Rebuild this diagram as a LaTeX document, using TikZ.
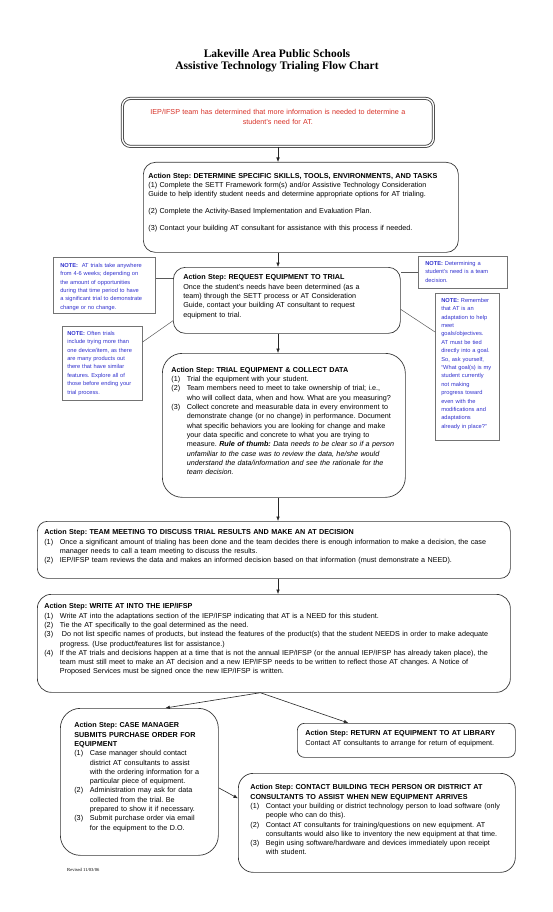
\documentclass[tikz,border=0pt]{standalone}
\usepackage{fontspec}
\setmainfont{Liberation Sans}
\newfontfamily\headfont{Liberation Serif}
\usetikzlibrary{arrows.meta}
\setlength{\parskip}{0pt}
\setlength{\parindent}{0pt}

\definecolor{alertred}{RGB}{214,48,38}
\definecolor{noteblue}{RGB}{48,48,205}
\definecolor{edge}{RGB}{55,55,55}

\newcommand{\stepsize}{\fontsize{7.2pt}{9.3pt}\selectfont\frenchspacing}
\newcommand{\notesize}{\fontsize{5.7pt}{8.4pt}\selectfont\frenchspacing}
\newcommand{\stepitem}[2]{\par\hangindent=15.5pt\hangafter=1\makebox[15.5pt][l]{#1}#2\par}

\tikzstyle{stepbox} = [draw=edge, line width=0.7pt, rounded corners=12pt, anchor=north west, inner ysep=0pt, align=left, font=\stepsize]
\tikzstyle{alertbox} = [draw=edge, line width=0.8pt, double=white, double distance=1.4pt, rounded corners=8pt, anchor=north west, inner ysep=0pt, align=center, text=alertred, font=\stepsize]
\tikzstyle{notebox} = [draw=black!55, line width=0.6pt, anchor=north west, inner ysep=0pt, align=left, text=noteblue, font=\notesize]
\tikzstyle{heading} = [anchor=north, inner sep=0pt, align=center, font=\headfont\bfseries\fontsize{11.5pt}{12.5pt}\selectfont]
\tikzstyle{revised} = [anchor=base west, inner sep=0pt, font=\headfont\fontsize{4.6pt}{5pt}\selectfont]
\tikzstyle{flow} = [draw=black!85, line width=0.6pt, -{Latex[length=4.5pt,width=3.6pt]}]
\tikzstyle{tie} = [draw=black!65, line width=0.5pt]

\begin{document}
\begin{tikzpicture}[x=1pt,y=-1pt]
	\useasboundingbox (0,0) rectangle (553,912);

	\node[heading] (heading) at (277,49) {Lakeville Area Public Schools\\Assistive Technology Trialing Flow Chart};

	\node[alertbox, inner xsep=5.5pt, text width=300pt, text height=16.5pt, text depth=31.5pt] (alert) at (122,98)
		{IEP/IFSP team has determined that more information is needed to determine a\\student's need for AT.};

	\node[stepbox, inner xsep=5pt, text width=305pt, text height=16pt, text depth=74pt] (determine) at (143,162)
		{\textbf{Action Step: DETERMINE SPECIFIC SKILLS, TOOLS, ENVIRONMENTS, AND TASKS}\par
		(1) Complete the SETT Framework form(s) and/or Assistive Technology Consideration\newline
		Guide to help identify student needs and determine appropriate options for AT trialing.\par\vspace{7.5pt}
		(2) Complete the Activity-Based Implementation and Evaluation Plan.\par\vspace{7.5pt}
		(3) Contact your building AT consultant for assistance with this process if needed.};

	\node[stepbox, inner xsep=10pt, text width=207pt, text height=12.5pt, text depth=53.5pt] (request) at (173,267)
		{\textbf{Action Step: REQUEST EQUIPMENT TO TRIAL}\par
		Once the student's needs have been determined (as a\newline
		team) through the SETT process or AT Consideration\newline
		Guide, contact your building AT consultant to request\newline
		equipment to trial.};

	\node[stepbox, rounded corners=20pt, inner xsep=9pt, text width=225pt, text height=19pt, text depth=125pt] (trial) at (162,353)
		{\textbf{Action Step: TRIAL EQUIPMENT \& COLLECT DATA}
		\stepitem{(1)}{Trial the equipment with your student.}
		\stepitem{(2)}{Team members need to meet to take ownership of trial; i.e.,\newline who will collect data, when and how. What are you measuring?}
		\stepitem{(3)}{Collect concrete and measurable data in every environment to\newline demonstrate change (or no change) in performance. Document\newline what specific behaviors you are looking for change and make\newline your data specific and concrete to what you are trying to\newline measure. \textbf{\textit{Rule of thumb:}} \textit{Data needs to be clear so if a person\newline unfamiliar to the case was to review the data, he/she would\newline understand the data/information and see the rationale for the\newline team decision.}}};

	\node[stepbox, rounded corners=10pt, inner xsep=7pt, text width=459pt, text height=13.5pt, text depth=43.5pt] (meeting) at (37,521)
		{\textbf{Action Step: TEAM MEETING TO DISCUSS TRIAL RESULTS AND MAKE AN AT DECISION}
		\stepitem{(1)}{Once a significant amount of trialing has been done and the team decides there is enough information to make a decision, the case\newline manager needs to call a team meeting to discuss the results.}
		\stepitem{(2)}{IEP/IFSP team reviews the data and makes an informed decision based on that information (must demonstrate a NEED).}};

	\node[stepbox, rounded corners=14pt, inner xsep=7pt, text width=459pt, text height=14.5pt, text depth=83.5pt] (write) at (37,594)
		{\textbf{Action Step: WRITE AT INTO THE IEP/IFSP}
		\stepitem{(1)}{Write AT into the adaptations section of the IEP/IFSP indicating that AT is a NEED for this student.}
		\stepitem{(2)}{Tie the AT specifically to the goal determined as the need.}
		\stepitem{(3)}{\hspace{2pt}Do not list specific names of products, but instead the features of the product(s) that the student NEEDS in order to make adequate\newline progress. (Use product/features list for assistance.)}
		\stepitem{(4)}{If the AT trials and decisions happen at a time that is not the annual IEP/IFSP (or the annual IEP/IFSP has already taken place), the\newline team must still meet to make an AT decision and a new IEP/IFSP needs to be written to reflect those AT changes. A Notice of\newline Proposed Services must be signed once the new IEP/IFSP is written.}};

	\node[stepbox, rounded corners=20pt, inner xsep=14pt, text width=130pt, text height=19.5pt, text depth=127.5pt] (casemgr) at (60,708)
		{\textbf{Action Step: CASE MANAGER\newline SUBMITS PURCHASE ORDER FOR\newline EQUIPMENT}
		\stepitem{(1)}{Case manager should contact\newline district AT consultants to assist\newline with the ordering information for a\newline particular piece of equipment.}
		\stepitem{(2)}{Administration may ask for data\newline collected from the trial. Be\newline prepared to show it if necessary.}
		\stepitem{(3)}{Submit purchase order via email\newline for the equipment to the D.O.}};

	\node[stepbox, rounded corners=7pt, inner xsep=8pt, text width=202pt, text height=12.5pt, text depth=21.5pt] (return) at (297,723)
		{\textbf{Action Step: RETURN AT EQUIPMENT TO AT LIBRARY}\par
		Contact AT consultants to arrange for return of equipment.};

	\node[stepbox, rounded corners=15pt, inner xsep=12pt, text width=253pt, text height=16.5pt, text depth=82.5pt] (contact) at (238,773)
		{\textbf{Action Step: CONTACT BUILDING TECH PERSON OR DISTRICT AT\newline CONSULTANTS TO ASSIST WHEN NEW EQUIPMENT ARRIVES}
		\stepitem{(1)}{Contact your building or district technology person to load software (only\newline people who can do this).}
		\stepitem{(2)}{Contact AT consultants for training/questions on new equipment. AT\newline consultants would also like to inventory the new equipment at that time.}
		\stepitem{(3)}{Begin using software/hardware and devices immediately upon receipt\newline with student.}};

	\node[revised] (stamp) at (67,871) {Revised 11/03/06};

	\node[notebox, inner xsep=7pt, text width=88pt, text height=10pt, text depth=46pt] (noteA) at (53,257)
		{\textbf{NOTE:}\ \ AT trials take anywhere\newline from 4-6 weeks; depending on\newline the amount of opportunities\newline during that time period to have\newline a significant trial to demonstrate\newline change or no change.};

	\node[notebox, inner xsep=5pt, text width=70pt, text height=9pt, text depth=65pt] (noteB) at (62,326)
		{\textbf{NOTE:} Often trials\newline include trying more than\newline one device/item, as there\newline are many products out\newline there that have similar\newline features. Explore all of\newline those before ending your\newline trial process.};

	\node[notebox, inner xsep=7pt, text width=75pt, text height=9pt, text depth=23pt] (noteC) at (418,256)
		{\textbf{NOTE:} Determining a\newline student's need is a team\newline decision.};

	\node[notebox, inner xsep=6pt, text width=52pt, text height=9pt, text depth=138pt] (noteD) at (435,293)
		{\textbf{NOTE:} Remember\newline that AT is an\newline adaptation to help\newline meet\newline goals/objectives.\newline AT must be tied\newline directly into a goal.\newline So, ask yourself,\newline “What goal(s) is my\newline student currently\newline not making\newline progress toward\newline even with the\newline modifications and\newline adaptations\newline already in place?”};

	\coordinate (spine) at (278,0);
	\draw[flow] (alert.south -| spine) -- (determine.north -| spine);
	\draw[flow] (determine.south -| spine) -- (request.north -| spine);
	\draw[flow] (request.south -| spine) -- (trial.north -| spine);
	\draw[flow] (trial.south -| spine) -- (meeting.north -| spine);
	\draw[flow] (meeting.south -| spine) -- (write.north -| spine);

	\coordinate (split) at ([xshift=-13.5pt]write.south);
	\draw[flow] (split) -- ([xshift=26pt]casemgr.north);
	\draw[flow] (split) -- ([xshift=-58pt]return.north);
	\draw[flow] ([yshift=-6pt]casemgr.east) -- ([yshift=24.5pt]contact.west);

	\draw[tie] ([yshift=7pt]noteA.east) -- ([yshift=7pt]noteA.east -| request.west);
	\draw[tie] ([yshift=-16pt]noteB.north east) -- ([yshift=13pt]request.south west);
	\draw[tie] (noteC.west) -- (noteC.west -| request.east);
	\draw[tie] ([yshift=-9pt]request.east) -- ([yshift=-39pt]noteD.north west);
\end{tikzpicture}
\end{document}
